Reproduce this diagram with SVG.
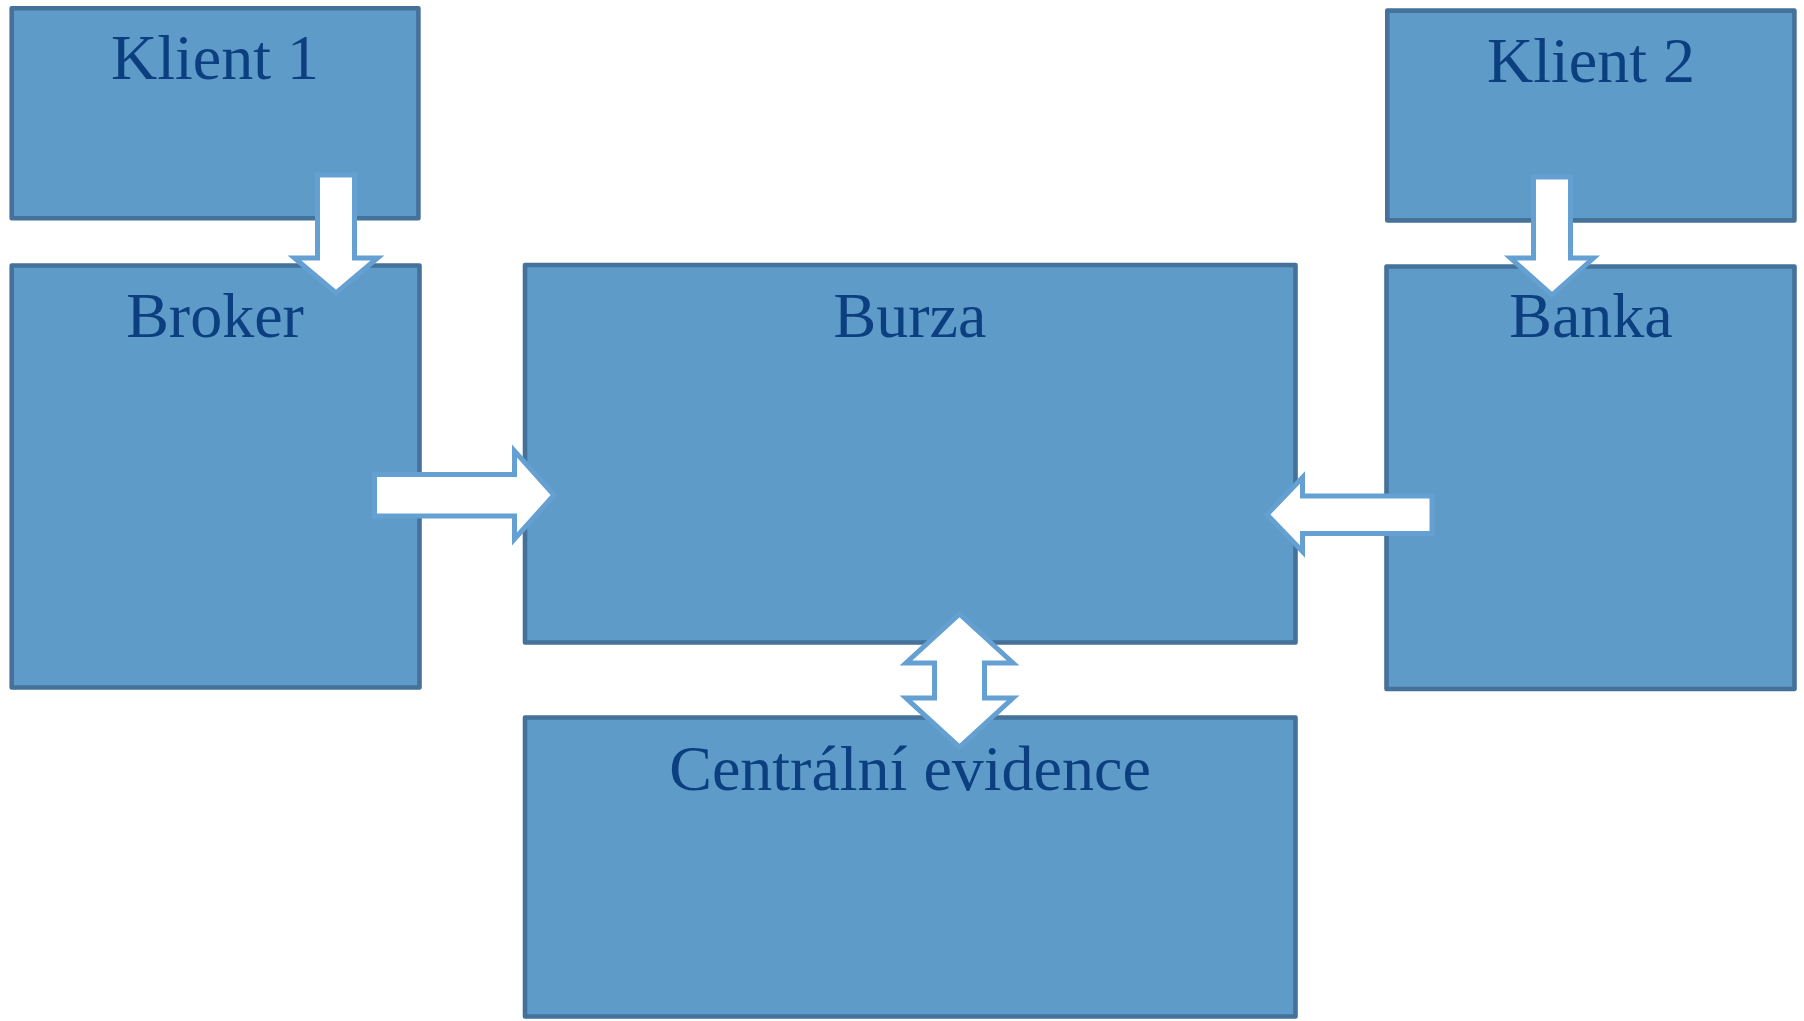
<svg xmlns="http://www.w3.org/2000/svg" width="1804" height="1021" viewBox="0 0 1804 1021">
<style>
.box{fill:#5F9BC8;stroke:#44729A;stroke-width:4.6;stroke-linejoin:round}
.lbl{font-family:"Liberation Serif","Times New Roman",serif;font-size:64px;fill:#0B3F7F;text-anchor:middle}
.arr{fill:#FFFFFF;stroke:#64A0D2;stroke-width:5;stroke-linejoin:miter}
</style>
<rect width="1804" height="1021" fill="#FFFFFF"/>
<g id="klient1"><rect class="box" x="11.7" y="8.3" width="406.7" height="210"/><text class="lbl" x="215" y="79">Klient 1</text></g>
<g id="broker"><rect class="box" x="11.7" y="265.5" width="407.8" height="422"/><text class="lbl" x="215" y="337">Broker</text></g>
<g id="burza"><rect class="box" x="525" y="265" width="770.5" height="377.5"/><text class="lbl" x="910" y="337">Burza</text></g>
<g id="centralni-evidence"><rect class="box" x="525" y="717.5" width="770.5" height="299"/><text class="lbl" x="910" y="790">Centrální evidence</text></g>
<g id="klient2"><rect class="box" x="1387.3" y="10.6" width="407.1" height="209.8"/><text class="lbl" x="1591" y="82">Klient 2</text></g>
<g id="banka"><rect class="box" x="1386.5" y="266.5" width="408" height="422.5"/><text class="lbl" x="1591" y="337">Banka</text></g>
<g id="connectors">
<path class="arr" d="M317.5,175 L354.5,175 L354.5,258 L377.5,258 L336,293 L294.5,258 L317.5,258 Z"/>
<path class="arr" d="M1533.5,177 L1570.5,177 L1570.5,258 L1593.5,258 L1552,295 L1510.5,258 L1533.5,258 Z"/>
<path class="arr" d="M374.5,474.5 L514.5,474.5 L514.5,451 L554,495 L514.5,539 L514.5,516 L374.5,516 Z"/>
<path class="arr" d="M1432,496 L1302.5,496 L1302.5,477.5 L1267,514.5 L1302.5,551.5 L1302.5,533.5 L1432,533.5 Z"/>
<path class="arr" d="M959.5,614 L1013,663 L984.5,663 L984.5,698 L1013,698 L959.5,747 L906,698 L934.5,698 L934.5,663 L906,663 Z"/>
</g>
</svg>
